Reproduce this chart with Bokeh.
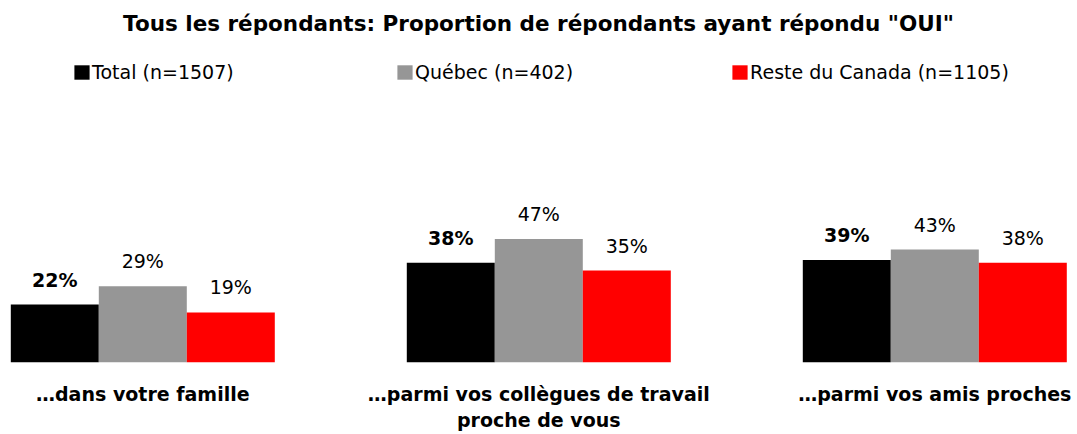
from bokeh.plotting import figure
from bokeh.models import ColumnDataSource, Range1d, Legend, LegendItem, Label
from bokeh.core.properties import value
from bokeh.embed import file_html
from bokeh.resources import INLINE

categories = ["…dans votre famille", "…parmi vos collègues de travail\nproche de vous", "…parmi vos amis proches"]
series_names = ["Total (n=1507)", "Québec (n=402)", "Reste du Canada (n=1105)"]
total = [22, 38, 39]
quebec = [29, 47, 43]
reste = [19, 35, 38]
colors = ["#000000", "#969696", "#FF0000"]
title_text = 'Tous les répondants: Proportion de répondants ayant répondu "OUI"'

FONT = "DejaVu Sans"
FIX = 8  # baseline correction (px)
W, H = 1077, 434
px_per_unit_x = 396.0
px_per_unit_y = 2.62
x0 = -142.3 / px_per_unit_x
y_base_px = 361.7

p = figure(width=W, height=H, output_backend="svg", toolbar_location=None,
           x_range=Range1d(x0, x0 + W / px_per_unit_x),
           y_range=Range1d(-(H - y_base_px) / px_per_unit_y, y_base_px / px_per_unit_y),
           min_border=0, outline_line_color=None)
p.axis.visible = False
p.grid.visible = False
p.background_fill_color = "white"
p.border_fill_color = "white"

bw = 88.0 / px_per_unit_x
offsets = [-bw, 0.0, bw]
xs = list(range(len(categories)))
renderers = []
for vals, off, col, bold in zip([total, quebec, reste], offsets, colors, [True, False, False]):
    src = ColumnDataSource(dict(x=[x + off for x in xs], top=vals,
                                lab=[f"{v}%" for v in vals]))
    r = p.vbar(x="x", top="top", bottom=0, width=bw, source=src,
               fill_color=col, line_color=None)
    renderers.append(r)
    p.text(x="x", y="top", text="lab", source=src, text_align="center",
           text_baseline="alphabetic", y_offset=-17 - FIX, text_font=value(FONT),
           text_font_size="19px", text_color="#000000",
           text_font_style="bold" if bold else "normal")

# category labels, one text glyph per line
line_x, line_y, line_lab, line_off = [], [], [], []
for i, cat in enumerate(categories):
    for j, ln in enumerate(cat.split("\n")):
        line_x.append(i)
        line_y.append(0)
        line_lab.append(ln)
        line_off.append(40 + 25.5 * j - FIX)
csrc = ColumnDataSource(dict(x=line_x, y=line_y, lab=line_lab, off=line_off))
p.text(x="x", y="y", text="lab", source=csrc, text_align="center",
       text_baseline="alphabetic", y_offset="off", text_font=value(FONT),
       text_font_size="19px", text_font_style="bold", text_color="#000000")

p.add_layout(Label(x=538, y=H - 30.7 + FIX, x_units="screen", y_units="screen",
                   text=title_text, text_align="center", text_baseline="alphabetic",
                   text_font=FONT, text_font_size="21.5px", text_font_style="bold",
                   text_color="#000000"))

# one legend per series so each entry sits where the reference has it
square_left = [74, 397, 732]
gw, gh = 19, 18
for name, r, sx in zip(series_names, renderers, square_left):
    lg = Legend(items=[LegendItem(label=name, renderers=[r])],
                orientation="horizontal", location=(sx - gw * 0.1, H - (67 - gh * 0.1) - gh),
                glyph_width=gw, glyph_height=gh, label_standoff=1,
                padding=0, margin=0, border_line_color=None, background_fill_alpha=0,
                label_text_font=FONT, label_text_font_size="19px", label_height=gh,
                label_text_color="#000000")
    p.add_layout(lg)

open("out.html", "w").write(file_html(p, INLINE))
